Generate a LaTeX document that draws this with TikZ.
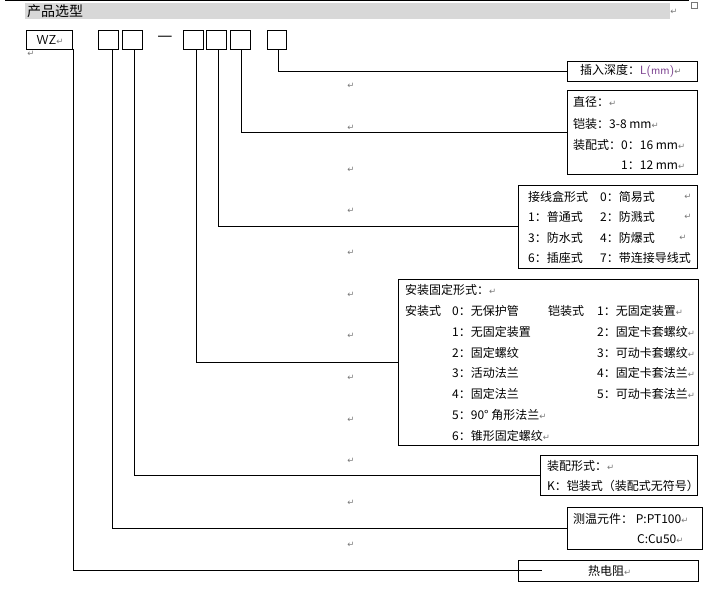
\documentclass[tikz,border=0pt]{standalone}
\usepackage{fontspec}
\newfontfamily\cjk{Noto Sans CJK SC}
\newfontfamily\dv{DejaVu Sans}
\definecolor{hdrgray}{RGB}{216,216,216}
\definecolor{pmgray}{RGB}{120,120,120}
\definecolor{lmm}{RGB}{120,60,140}
\newcommand\pmk{{\dv\color{pmgray}\fontsize{8.5}{8.5}\selectfont ↵}}
\tikzset{
  box/.style={draw, line width=1pt, inner sep=0pt},
  txt/.style={inner sep=0pt, anchor=west, font=\cjk\fontsize{12}{12}\selectfont},
  pmark/.style={inner sep=0pt, font=\dv\fontsize{8.5}{8.5}\selectfont, text=pmgray},
  conn/.style={draw, line width=1pt}
}
\begin{document}
\begin{tikzpicture}[x=1pt,y=-1pt]
\useasboundingbox (0,0) rectangle (711,592);
% header
\fill[hdrgray] (25,3) rectangle (670,19);
\draw[line width=1pt] (5,0.5) -- (689,0.5);
\draw[line width=0.5pt, pmgray] (691,2) rectangle (697,8);
\node[txt, font=\cjk\fontsize{14}{14}\selectfont] (title) at (27,11) {产品选型};
\node[pmark] (pmh) at (674,12) {↵};
% code boxes
\node[box, minimum width=46pt, minimum height=19pt, font=\sffamily\fontsize{13}{13}\selectfont] (wz) at (49,39.5) {\,WZ\pmk};
\node[pmark] (pmwz) at (31,54) {↵};
\node[box, minimum width=20pt, minimum height=19pt] (b1) at (108,39.5) {};
\node[box, minimum width=20pt, minimum height=19pt] (b2) at (132,39.5) {};
\node[inner sep=0pt, font=\cjk\fontsize{17}{17}\selectfont] (dash) at (165,39) {—};
\node[box, minimum width=20pt, minimum height=19pt] (b3) at (193,39.5) {};
\node[box, minimum width=20pt, minimum height=19pt] (b4) at (216,39.5) {};
\node[box, minimum width=20pt, minimum height=19pt] (b5) at (240,39.5) {};
\node[box, minimum width=19pt, minimum height=19pt] (b6) at (276.5,39.5) {};
% description boxes
\node[box, minimum width=130pt, minimum height=20pt] (ins) at (632,71) {};
\node[box, minimum width=130pt, minimum height=84pt] (dia) at (632,132) {};
\node[box, minimum width=179pt, minimum height=83pt] (jb) at (607.5,226.5) {};
\node[box, minimum width=300pt, minimum height=166pt] (mnt) at (548,362) {};
\node[box, minimum width=157pt, minimum height=40pt] (asm) at (618.5,475) {};
\node[box, minimum width=135pt, minimum height=42pt] (sen) at (634.5,528) {};
\node[box, minimum width=180pt, minimum height=21pt] (rd) at (608,570.5) {};
% connector start points
\coordinate (s0) at (73,49);
\coordinate (s1) at (112,49);
\coordinate (s2) at (134,49);
\coordinate (s3) at (196,49);
\coordinate (s4) at (218,49);
\coordinate (s5) at (241,49);
\coordinate (s6) at (278,49);
\coordinate (rdend) at (542,570.5);
\draw[conn] (s0) |- (rdend);
\draw[conn] (s1) |- (sen.west);
\draw[conn] (s2) |- (asm.west);
\draw[conn] (s3) |- (mnt.west);
\draw[conn] (s4) |- (jb.west);
\draw[conn] (s5) |- (dia.west);
\draw[conn] (s6) |- (ins.west);
% paragraph marks column
\foreach \yy [count=\i] in {86,128,170,211,253,295,336,378,420,461,503,545}
  \node[pmark] (pc\i) at (351,\yy) {↵};
% insertion depth
\node[txt] (insT) at (580,71) {插入深度：{\color{lmm}\sffamily L(mm)}\pmk};
% diameter
\node[txt] (dia1) at (573,102) {直径：\pmk};
\node[txt] (dia2) at (573,124) {铠装：3-8 mm\pmk};
\node[txt] (dia3) at (573,145) {装配式：0：16 mm\pmk};
\node[txt] (dia4) at (621,165) {1：12 mm\pmk};
% junction box
\node[txt] (jb1a) at (528,197) {接线盒形式};
\node[txt] (jb1b) at (600,197) {0：简易式};
\node[txt] (jb2a) at (528,217) {1：普通式};
\node[txt] (jb2b) at (600,217) {2：防溅式};
\node[txt] (jb3a) at (528,238) {3：防水式};
\node[txt] (jb3b) at (600,238) {4：防爆式};
\node[txt] (jb4a) at (528,258) {6：插座式};
\node[txt] (jb4b) at (600,258) {7：带连接导线式};
\node[pmark] (pmj1) at (688,197) {↵};
\node[pmark] (pmj2) at (688,217) {↵};
\node[pmark] (pmj3) at (683,238) {↵};
% mounting
\node[txt] (m0) at (405,290) {安装固定形式：\pmk};
\node[txt] (mA) at (405,311) {安装式};
\node[txt] (mB) at (548,311) {铠装式};
\node[txt] (ma0) at (452,311) {0：无保护管};
\node[txt] (ma1) at (452,332) {1：无固定装置};
\node[txt] (ma2) at (452,353) {2：固定螺纹};
\node[txt] (ma3) at (452,373) {3：活动法兰};
\node[txt] (ma4) at (452,394) {4：固定法兰};
\node[txt] (ma5) at (452,415) {5：90° 角形法兰\pmk};
\node[txt] (ma6) at (452,436) {6：锥形固定螺纹\pmk};
\node[txt] (mb1) at (597,311) {1：无固定装置\pmk};
\node[txt] (mb2) at (597,332) {2：固定卡套螺纹\pmk};
\node[txt] (mb3) at (597,353) {3：可动卡套螺纹\pmk};
\node[txt] (mb4) at (597,373) {4：固定卡套法兰\pmk};
\node[txt] (mb5) at (597,394) {5：可动卡套法兰\pmk};
% assembly
\node[txt] (as1) at (547,466) {装配形式：\pmk};
\node[txt] (as2) at (547,486) {K：铠装式（装配式无符号）};
% sensor
\node[txt] (se1) at (573,519) {测温元件： P:PT100\pmk};
\node[txt] (se2) at (637,539) {C:Cu50\pmk};
% RTD
\node[txt] (rdT) at (588,570.5) {热电阻\pmk};
\end{tikzpicture}
\end{document}
